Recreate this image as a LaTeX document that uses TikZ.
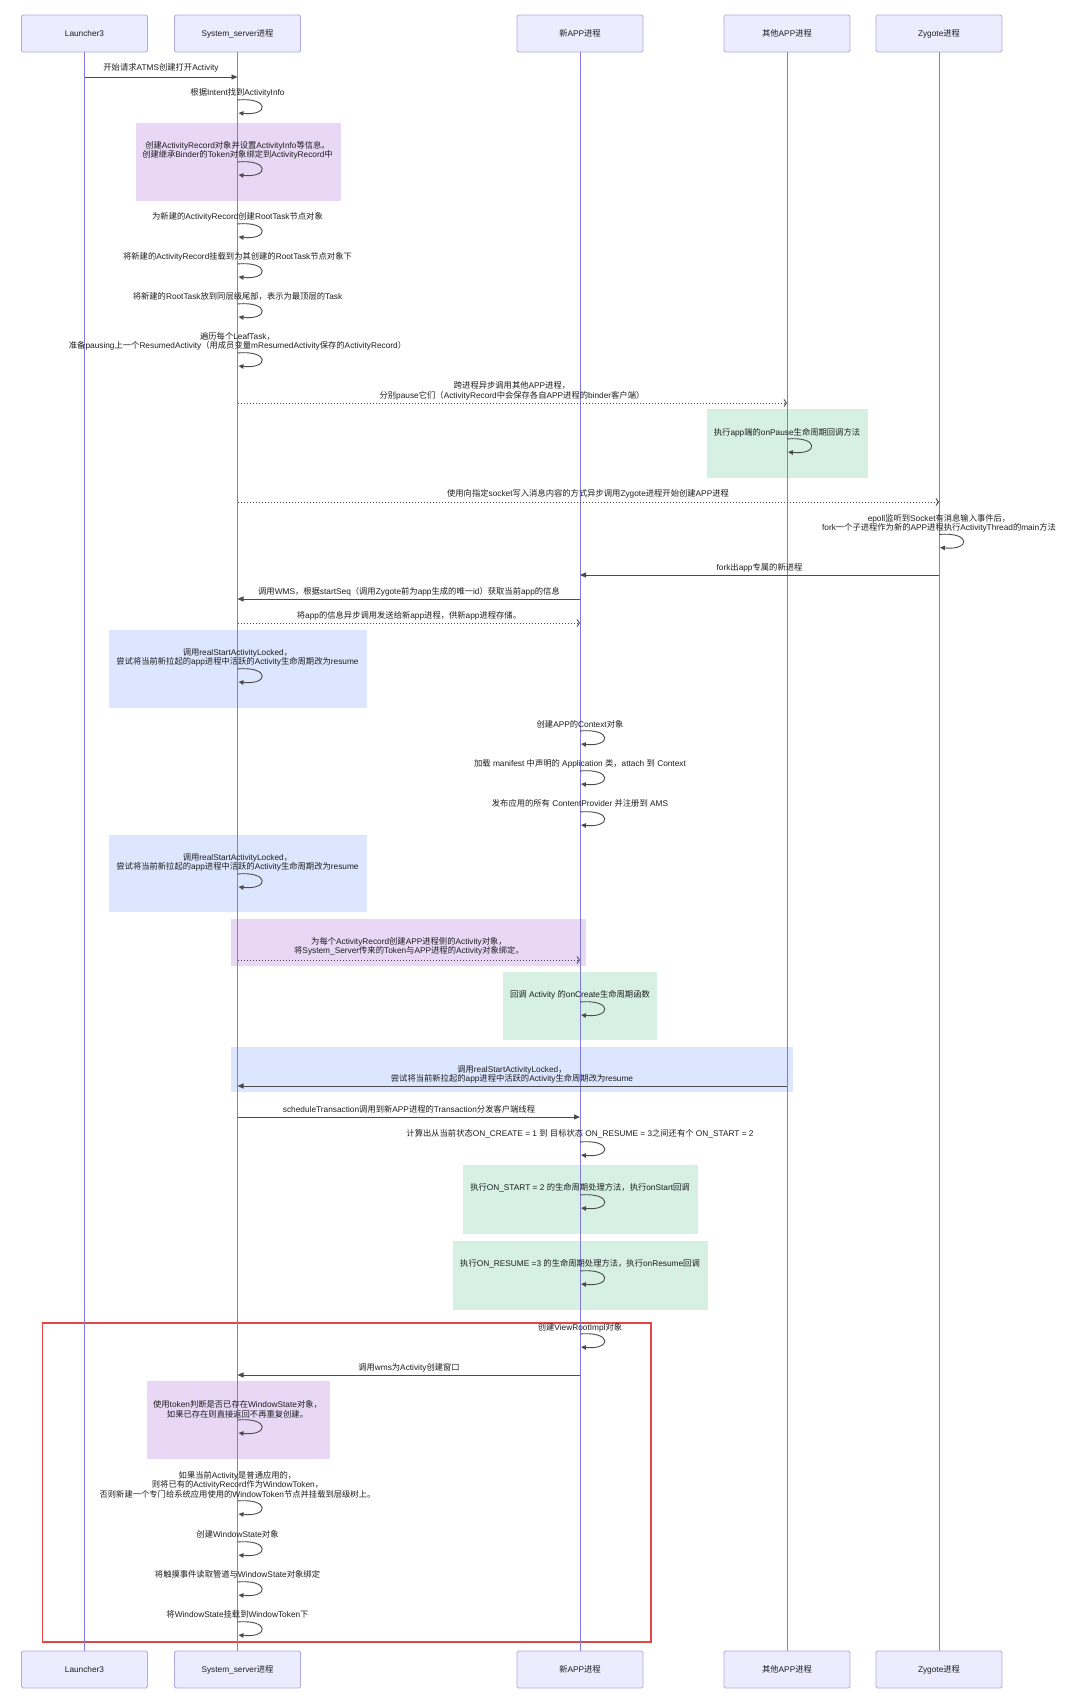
\documentclass[tikz,border=0pt]{standalone}
\usepackage{fontspec}
\setmainfont{Liberation Sans}
\newfontfamily\latinfont{Liberation Sans}
\newfontfamily\cjkfont{Noto Sans CJK SC}
\usetikzlibrary{arrows.meta}
% automatic font switching between Latin and CJK runs
\XeTeXinterchartokenstate=1
\chardef\CJKcls=7
\newcount\cjkcnt
\cjkcnt="2E80
\loop\XeTeXcharclass\cjkcnt=\CJKcls \advance\cjkcnt by 1 \ifnum\cjkcnt<"A000 \repeat
\cjkcnt="FF00
\loop\XeTeXcharclass\cjkcnt=\CJKcls \advance\cjkcnt by 1 \ifnum\cjkcnt<"FFF0 \repeat
\XeTeXinterchartoks 0 \CJKcls={\cjkfont}
\XeTeXinterchartoks 4095 \CJKcls={\cjkfont}
\XeTeXinterchartoks \CJKcls 0={\latinfont}
\XeTeXinterchartoks \CJKcls 4095={\latinfont}
\definecolor{actfill}{RGB}{236,236,255}
\definecolor{actborder}{RGB}{178,168,228}
\definecolor{lifeline}{RGB}{130,122,225}
\definecolor{msgline}{RGB}{75,75,75}
\definecolor{txtc}{RGB}{30,30,30}
\definecolor{purp}{RGB}{232,216,246}
\definecolor{grn}{RGB}{214,240,228}
\definecolor{blu}{RGB}{220,230,255}
\definecolor{redbox}{RGB}{224,72,72}
\def\xL{84.5}
\def\xS{237.5}
\def\xN{580}
\def\xO{787}
\def\xZ{939}
\newcommand\mymsg[5]{% style, x1, x2, y, name
  \coordinate (#5s) at (#2,#4);
  \coordinate (#5e) at (#3,#4);
  \draw[#1] (#5s) -- (#5e);}
\newcommand\myloop[3]{% x, y1, name
  \coordinate (#3s) at (#1,#2);
  \coordinate (#3e) at (#1+1,#2+13);
  \draw[loopa] (#3s) .. controls +(32,-3) and +(31,3) .. (#3e);}
\begin{document}
\begin{tikzpicture}[x=1pt,y=-1pt,
  every node/.style={font=\fontsize{8.3}{9.3}\selectfont},
  actor/.style={draw=actborder, fill=actfill, line width=0.8pt, rounded corners=1.5pt,
    minimum width=126pt, minimum height=37pt, inner sep=0pt, text=txtc},
  life/.style={draw=lifeline, line width=0.9pt},
  sync/.style={draw=msgline, line width=0.9pt, -{Triangle[length=6pt,width=5pt]}},
  async/.style={draw=msgline, line width=0.9pt, dash pattern=on 1.5pt off 1.5pt,
    -{Straight Barb[length=2.5pt,width=7pt]}},
  loopa/.style={draw=msgline, line width=0.9pt, -{Triangle[length=5pt,width=4.5pt]}},
  txt/.style={inner sep=0pt, align=center, text=txtc, yshift=-0.8pt},
]
\useasboundingbox[fill=white] (0,0) rectangle (1080,1700);

% highlight blocks
\fill[purp] (136,123) rectangle (341,200.5);
\fill[grn] (707,409) rectangle (868,478);
\fill[blu] (109,630) rectangle (367,708);
\fill[blu] (109,835) rectangle (367,912);
\fill[purp] (231,919) rectangle (586,966);
\fill[grn] (503,972) rectangle (657,1040);
\fill[blu] (231,1047) rectangle (793,1092);
\fill[grn] (463,1165) rectangle (698,1234);
\fill[grn] (452.5,1241) rectangle (708,1310);
\fill[purp] (146.7,1381) rectangle (330,1459);
\draw[redbox, line width=1.5pt] (42.7,1323) rectangle (651,1642);

% actors
\node[actor] (L1) at (\xL,33.5) {Launcher3};
\node[actor] (S1) at (\xS,33.5) {System\_server进程};
\node[actor] (N1) at (\xN,33.5) {新APP进程};
\node[actor] (O1) at (\xO,33.5) {其他APP进程};
\node[actor] (Z1) at (\xZ,33.5) {Zygote进程};
\node[actor] (L2) at (\xL,1669.5) {Launcher3};
\node[actor] (S2) at (\xS,1669.5) {System\_server进程};
\node[actor] (N2) at (\xN,1669.5) {新APP进程};
\node[actor] (O2) at (\xO,1669.5) {其他APP进程};
\node[actor] (Z2) at (\xZ,1669.5) {Zygote进程};
\draw[life] (L1.south) -- (L2.north);
\draw[life] (S1.south) -- (S2.north);
\draw[life] (N1.south) -- (N2.north);
\draw[life] (O1.south) -- (O2.north);
\draw[life] (Z1.south) -- (Z2.north);

% messages
\node[txt] (t1) at (161,67.5) {开始请求ATMS创建打开Activity};
\mymsg{sync}{\xL}{\xS}{77}{m1}
\node[txt] (t2) at (\xS,92.5) {根据Intent找到ActivityInfo};
\myloop{\xS}{100}{l2}
\node[txt] (t3) at (\xS,149.5) {创建ActivityRecord对象并设置ActivityInfo等信息。\\创建继承Binder的Token对象绑定到ActivityRecord中};
\myloop{\xS}{162}{l3}
\node[txt] (t4) at (\xS,216) {为新建的ActivityRecord创建RootTask节点对象};
\myloop{\xS}{224}{l4}
\node[txt] (t5) at (\xS,256) {将新建的ActivityRecord挂载到为其创建的RootTask节点对象下};
\myloop{\xS}{264}{l5}
\node[txt] (t6) at (\xS,296) {将新建的RootTask放到同层级尾部，表示为最顶层的Task};
\myloop{\xS}{304}{l6}
\node[txt] (t7) at (\xS,340.5) {遍历每个LeafTask，\\准备pausing上一个ResumedActivity（用成员变量mResumedActivity保存的ActivityRecord）};
\myloop{\xS}{353}{l7}
\node[txt] (t8) at (512,390) {跨进程异步调用其他APP进程，\\分别pause它们（ActivityRecord中会保存各自APP进程的binder客户端）};
\mymsg{async}{\xS}{\xO}{403}{m8}
\node[txt] (t9) at (\xO,432) {执行app端的onPause生命周期回调方法};
\myloop{\xO}{439}{l9}
\node[txt] (t10) at (588,493) {使用向指定socket写入消息内容的方式异步调用Zygote进程开始创建APP进程};
\mymsg{async}{\xS}{\xZ}{502}{m10}
\node[txt] (t11) at (\xZ,522.5) {epoll监听到Socket有消息输入事件后，\\fork一个子进程作为新的APP进程执行ActivityThread的main方法};
\myloop{\xZ}{534.5}{l11}
\node[txt] (t12) at (759.5,567) {fork出app专属的新进程};
\mymsg{sync}{\xZ}{\xN}{575}{m12}
\node[txt] (t13) at (409,591) {调用WMS，根据startSeq（调用Zygote前为app生成的唯一id）获取当前app的信息};
\mymsg{sync}{\xN}{\xS}{599}{m13}
\node[txt] (t14) at (409,615) {将app的信息异步调用发送给新app进程，供新app进程存储。};
\mymsg{async}{\xS}{\xN}{623}{m14}
\node[txt] (t15) at (\xS,656.5) {调用realStartActivityLocked，\\尝试将当前新拉起的app进程中活跃的Activity生命周期改为resume};
\myloop{\xS}{669}{l15}
\node[txt] (t16) at (\xN,724) {创建APP的Context对象};
\myloop{\xN}{731}{l16}
\node[txt] (t17) at (\xN,763) {加载 manifest 中声明的 Application 类，attach 到 Context};
\myloop{\xN}{771}{l17}
\node[txt] (t18) at (\xN,803) {发布应用的所有 ContentProvider 并注册到 AMS};
\myloop{\xN}{812}{l18}
\node[txt] (t19) at (\xS,861.5) {调用realStartActivityLocked，\\尝试将当前新拉起的app进程中活跃的Activity生命周期改为resume};
\myloop{\xS}{874}{l19}
\node[txt] (t20) at (409,945.5) {为每个ActivityRecord创建APP进程侧的Activity对象，\\将System\_Server传来的Token与APP进程的Activity对象绑定。};
\mymsg{async}{\xS}{\xN}{960}{m20}
\node[txt] (t21) at (\xN,994) {回调 Activity 的onCreate生命周期函数};
\myloop{\xN}{1002}{l21}
\node[txt] (t22) at (512,1073.5) {调用realStartActivityLocked，\\尝试将当前新拉起的app进程中活跃的Activity生命周期改为resume};
\mymsg{sync}{\xO}{\xS}{1086}{m22}
\node[txt] (t23) at (409,1109) {scheduleTransaction调用到新APP进程的Transaction分发客户端线程};
\mymsg{sync}{\xS}{\xN}{1117}{m23}
\node[txt] (t24) at (\xN,1133) {计算出从当前状态ON\_CREATE = 1 到 目标状态 ON\_RESUME = 3之间还有个 ON\_START = 2};
\myloop{\xN}{1142}{l24}
\node[txt] (t25) at (\xN,1187) {执行ON\_START = 2 的生命周期处理方法，执行onStart回调};
\myloop{\xN}{1195}{l25}
\node[txt] (t26) at (\xN,1263) {执行ON\_RESUME =3 的生命周期处理方法，执行onResume回调};
\myloop{\xN}{1271}{l26}
\node[txt] (t27) at (\xN,1327) {创建ViewRootImpl对象};
\myloop{\xN}{1334}{l27}
\node[txt] (t28) at (409,1367) {调用wms为Activity创建窗口};
\mymsg{sync}{\xN}{\xS}{1375}{m28}
\node[txt] (t29) at (\xS,1408.5) {使用token判断是否已存在WindowState对象，\\如果已存在则直接返回不再重复创建。};
\myloop{\xS}{1420}{l29}
\node[txt] (t30) at (\xS,1484) {如果当前Activity是普通应用的，\\则将已有的ActivityRecord作为WindowToken，\\否则新建一个专门给系统应用使用的WindowToken节点并挂载到层级树上。};
\myloop{\xS}{1501}{l30}
\node[txt] (t31) at (\xS,1534) {创建WindowState对象};
\myloop{\xS}{1542}{l31}
\node[txt] (t32) at (\xS,1574) {将触摸事件读取管道与WindowState对象绑定};
\myloop{\xS}{1582}{l32}
\node[txt] (t33) at (\xS,1614) {将WindowState挂载到WindowToken下};
\myloop{\xS}{1622}{l33}
\end{tikzpicture}
\end{document}
